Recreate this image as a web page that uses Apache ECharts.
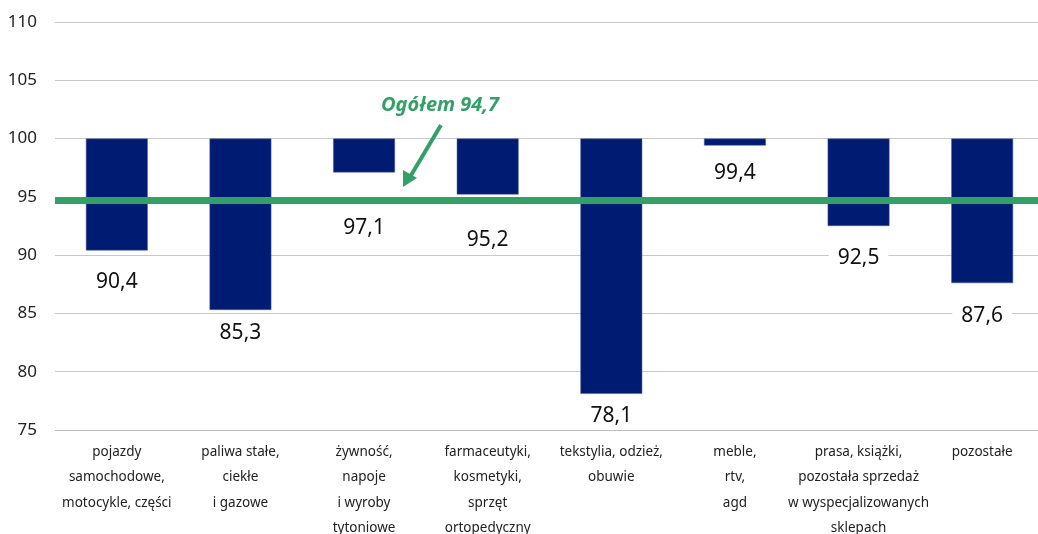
<!DOCTYPE html>
<html>
<head>
<meta charset="utf-8">
<script src="https://cdn.jsdelivr.net/npm/echarts@6/dist/echarts.min.js"></script>
<style>html,body{margin:0;padding:0;background:#fff}#c{width:1038px;height:534px}</style>
</head>
<body>
<div id="c"></div>
<script>
const categories = [
  'pojazdy\nsamochodowe,\nmotocykle, części',
  'paliwa stałe,\nciekłe\ni gazowe',
  'żywność,\nnapoje\ni wyroby\ntytoniowe',
  'farmaceutyki,\nkosmetyki,\nsprzęt\nortopedyczny',
  'tekstylia, odzież,\nobuwie',
  'meble,\nrtv,\nagd',
  'prasa, książki,\npozostała sprzedaż\nw wyspecjalizowanych\nsklepach',
  'pozostałe'
];
const values = [90.4, 85.3, 97.1, 95.2, 78.1, 99.4, 92.5, 87.6];
const baseline = 100;
const overall = 94.7;
const overallLabel = 'Ogółem 94,7';
const yTicks = [75, 80, 85, 90, 95, 100, 105, 110];

// label gaps below bar ends (layout only)
const labelGap = [20, 11, 44, 33, 10, 15, 20, 21];

const fmt = v => String(v).replace('.', ',');
const FONT = 'Noto Sans';
const GREEN = '#33a068';

const chart = echarts.init(document.getElementById('c'));
chart.setOption({
  animation: false,
  textStyle: { fontFamily: FONT },
  grid: { left: 55, right: -6, top: 22, bottom: 104, outerBoundsMode: 'none', containLabel: false },
  xAxis: {
    type: 'category',
    data: categories,
    axisTick: { show: false },
    axisLine: { lineStyle: { color: '#bdbdbd', width: 1 } },
    axisLabel: { color: '#222', fontSize: 13.5, lineHeight: 25.5, margin: 9, interval: 0, fontFamily: FONT }
  },
  yAxis: {
    type: 'value',
    min: yTicks[0], max: yTicks[yTicks.length - 1], interval: 5,
    axisLine: { show: false },
    axisTick: { show: false },
    splitLine: { lineStyle: { color: '#c8c8c8', width: 1 } },
    axisLabel: { color: '#222', fontSize: 17, margin: 18, fontFamily: FONT }
  },
  series: [
    {
      type: 'bar', stack: 's', barWidth: '50%',
      data: values,
      itemStyle: { color: 'transparent' },
      silent: true
    },
    {
      type: 'bar', stack: 's', barWidth: '50%',
      data: values.map((v, i) => ({
        value: +(baseline - v).toFixed(2),
        label: { distance: labelGap[i] }
      })),
      itemStyle: { color: '#001c72', borderColor: '#4a5fa0', borderWidth: 0.5 },
      label: {
        show: true, position: 'bottom',
        formatter: p => fmt(values[p.dataIndex]),
        fontSize: 21, color: '#111', fontFamily: FONT,
        backgroundColor: '#fff', padding: [1, 9], lineHeight: 22
      },
      z: 3
    },
    {
      type: 'line', data: [],
      markLine: {
        silent: true, symbol: ['none', 'none'],
        label: { show: false },
        lineStyle: { color: GREEN, width: 7, type: 'solid' },
        data: [{ yAxis: overall }]
      },
      z: 5
    }
  ],
  graphic: [
    {
      type: 'text', left: 381, top: 95, z: 10,
      style: { text: overallLabel, fill: GREEN, fontSize: 20, fontWeight: 'bold', fontStyle: 'italic', fontFamily: FONT }
    },
    {
      type: 'line', z: 10,
      shape: { x1: 441, y1: 125, x2: 410, y2: 177 },
      style: { stroke: GREEN, lineWidth: 4 }
    },
    {
      type: 'polygon', z: 10,
      shape: { points: [[403, 187], [403, 170], [417, 178]] },
      style: { fill: GREEN }
    }
  ]
});
</script>
</body>
</html>
